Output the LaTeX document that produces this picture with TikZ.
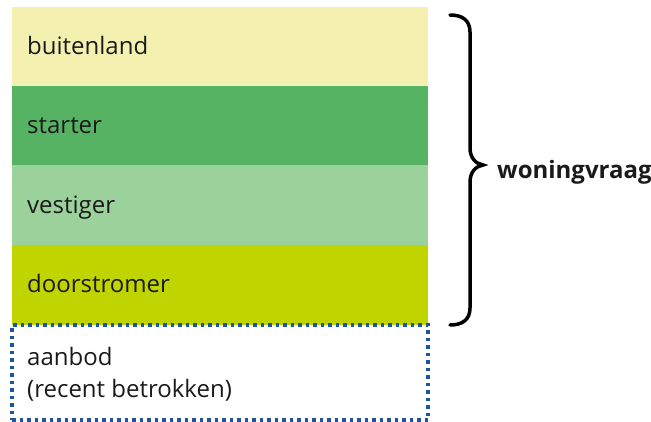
\documentclass[tikz,border=0pt]{standalone}
\usepackage{fontspec}
\setmainfont{Open Sans}
\definecolor{cbuiten}{HTML}{F4F1B0}
\definecolor{cstarter}{HTML}{56B364}
\definecolor{cvestiger}{HTML}{9BD19B}
\definecolor{cdoor}{HTML}{C0D400}
\definecolor{cblue}{HTML}{1F55A0}
\definecolor{ctext}{HTML}{1A1A1A}
\tikzset{
  rowbox/.style={draw=none, minimum width=416bp, minimum height=79bp, inner sep=0pt, outer sep=0pt, anchor=north west},
  rowlabel/.style={anchor=base west, inner sep=0pt, text=ctext, font=\fontsize{24bp}{32bp}\selectfont},
}
\begin{document}
\begin{tikzpicture}[x=1bp,y=-1bp]
\useasboundingbox (0,0) rectangle (651,421);
\node[rowbox, fill=cbuiten] (b1) at (12,7) {};
\node[rowbox, fill=cstarter] (b2) at (12,86) {};
\node[rowbox, fill=cvestiger, minimum height=80bp] (b3) at (12,165) {};
\node[rowbox, fill=cdoor, minimum height=80bp] (b4) at (12,245) {};
\node[rowbox, minimum height=95bp, draw=cblue, line width=3.5bp, dash pattern=on 3.5bp off 4bp] (b5) at (12,325) {};
\node[rowlabel] (t1) at (27,54) {buitenland};
\node[rowlabel] (t2) at (27,133) {starter};
\node[rowlabel] (t3) at (27,213) {vestiger};
\node[rowlabel] (t4) at (27,292) {doorstromer};
\node[rowlabel] (t5) at (27,365) {aanbod};
\node[rowlabel] (t6) at (27,397) {(recent betrokken)};
\draw[line width=3.5bp, line cap=round]
  (450,15) .. controls (462,15) and (470,20) .. (470,32)
  -- (470,148) .. controls (470,158) and (476,164) .. (483,165)
  .. controls (476,166) and (470,172) .. (470,182)
  -- (470,308) .. controls (470,320) and (462,325) .. (450,325);
\node[anchor=base west, inner sep=0pt, text=ctext, font=\bfseries\fontsize{24bp}{28bp}\selectfont] (w) at (497,178) {woningvraag};
\end{tikzpicture}
\end{document}
